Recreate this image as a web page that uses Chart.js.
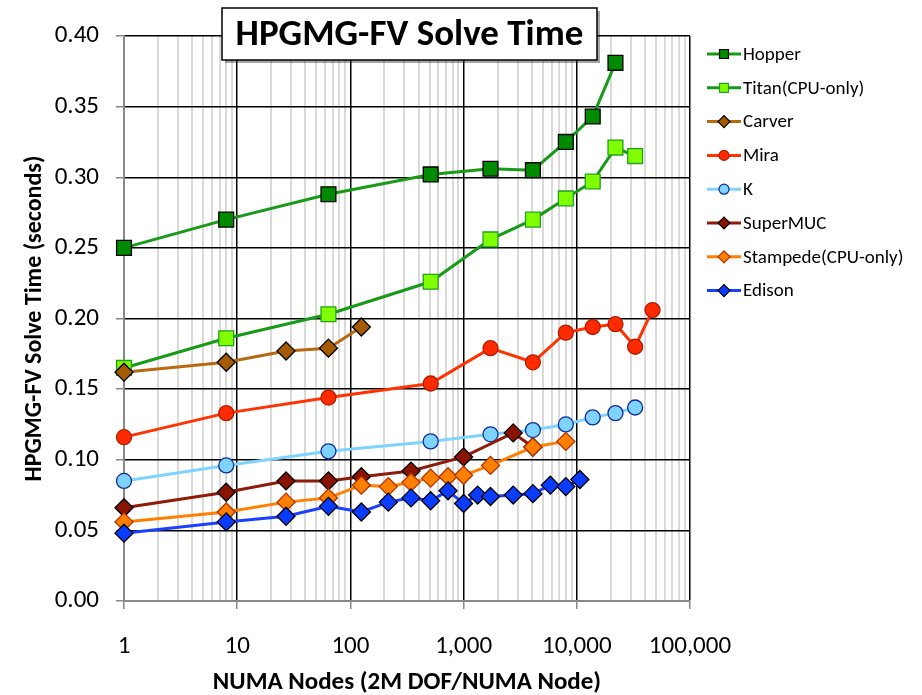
<!DOCTYPE html>
<html>
<head>
<meta charset="utf-8">
<title>HPGMG-FV Solve Time</title>
<script src="https://cdn.jsdelivr.net/npm/chart.js@4.4.1/dist/chart.umd.min.js"></script>
<style>
  html, body { margin: 0; padding: 0; background: #fff; }
  #grafico { display: block; }
</style>
</head>
<body>
<canvas id="grafico" width="922" height="695"></canvas>
<script>
// NUMA nodes (x) and solve time in seconds (y)
const hopperNodes = [1, 8, 64, 512, 1728, 4096, 8000, 13824, 21952];
const hopperTime = [0.250, 0.270, 0.288, 0.302, 0.306, 0.305, 0.325, 0.343, 0.381];

const titanNodes = [1, 8, 64, 512, 1728, 4096, 8000, 13824, 21952, 32768];
const titanTime = [0.165, 0.186, 0.203, 0.226, 0.256, 0.270, 0.285, 0.297, 0.321, 0.315];

const carverNodes = [1, 8, 27, 64, 125];
const carverTime = [0.162, 0.169, 0.177, 0.179, 0.194];

const miraNodes = [1, 8, 64, 512, 1728, 4096, 8000, 13824, 21952, 32768, 46656];
const miraTime = [0.116, 0.133, 0.144, 0.154, 0.179, 0.169, 0.190, 0.194, 0.196, 0.180, 0.206];

const kNodes = [1, 8, 64, 512, 1728, 4096, 8000, 13824, 21952, 32768];
const kTime = [0.085, 0.096, 0.106, 0.113, 0.118, 0.121, 0.125, 0.130, 0.133, 0.137];

const superMucNodes = [1, 8, 27, 64, 125, 343, 1000, 2744, 4096];
const superMucTime = [0.066, 0.077, 0.085, 0.085, 0.088, 0.092, 0.102, 0.119, 0.109];

const stampedeNodes = [1, 8, 27, 64, 125, 216, 343, 512, 729, 1000, 1728, 4096, 8000];
const stampedeTime = [0.056, 0.063, 0.070, 0.073, 0.082, 0.081, 0.084, 0.087, 0.088, 0.089, 0.096, 0.109, 0.113];

const edisonNodes = [1, 8, 27, 64, 125, 216, 343, 512, 729, 1000, 1331, 1728, 2744, 4096, 5832, 8000, 10648];
const edisonTime = [0.048, 0.056, 0.060, 0.067, 0.063, 0.070, 0.073, 0.071, 0.078, 0.069, 0.075, 0.074, 0.075, 0.076, 0.082, 0.081, 0.086];

const xTickLabels = ["1", "10", "100", "1,000", "10,000", "100,000"];
const yTickLabels = ["0.00", "0.05", "0.10", "0.15", "0.20", "0.25", "0.30", "0.35", "0.40"];

const FONT = "Carlito, Lato, 'Open Sans', sans-serif";

const series = [
  { label: "Hopper", nodes: hopperNodes, time: hopperTime, line: "#179B17", fill: "#008A00", edge: "#000000", shape: "rect", r: 10.5 },
  { label: "Titan(CPU-only)", nodes: titanNodes, time: titanTime, line: "#179B17", fill: "#80FF00", edge: "#22A022", shape: "rect", r: 10.5 },
  { label: "Carver", nodes: carverNodes, time: carverTime, line: "#B8690F", fill: "#A65A00", edge: "#000000", shape: "rectRot", r: 9 },
  { label: "Mira", nodes: miraNodes, time: miraTime, line: "#FF3300", fill: "#FF2A00", edge: "#B01E00", shape: "circle", r: 7.5 },
  { label: "K", nodes: kNodes, time: kTime, line: "#7DD4FF", fill: "#7FD3FF", edge: "#102A9A", shape: "circle", r: 7.5 },
  { label: "SuperMUC", nodes: superMucNodes, time: superMucTime, line: "#901A08", fill: "#8B1400", edge: "#000000", shape: "rectRot", r: 9 },
  { label: "Stampede(CPU-only)", nodes: stampedeNodes, time: stampedeTime, line: "#FF8000", fill: "#FF7F00", edge: "#B03000", shape: "rectRot", r: 9 },
  { label: "Edison", nodes: edisonNodes, time: edisonTime, line: "#1A40FF", fill: "#0A3CFF", edge: "#000000", shape: "rectRot", r: 9 }
];

// minor gridlines 1..9 per decade
const xGridValues = [];
for (let e = 0; e < 5; e++) {
  for (let m = 1; m < 10; m++) xGridValues.push(m * Math.pow(10, e));
}
xGridValues.push(100000);

function isDecade(v) {
  const e = Math.log10(v);
  return Math.abs(e - Math.round(e)) < 1e-9;
}

function pontos(xs, ys) {
  return xs.map((x, i) => ({ x: x, y: ys[i] }));
}

function marcador(ctx, s, x, y, r) {
  ctx.beginPath();
  if (s.shape === "rect") {
    ctx.rect(x - r, y - r, 2 * r, 2 * r);
  } else if (s.shape === "rectRot") {
    ctx.moveTo(x - r, y);
    ctx.lineTo(x, y - r);
    ctx.lineTo(x + r, y);
    ctx.lineTo(x, y + r);
    ctx.closePath();
  } else {
    ctx.arc(x, y, r, 0, Math.PI * 2);
  }
  ctx.fillStyle = s.fill;
  ctx.fill();
  ctx.lineWidth = 1.2;
  ctx.strokeStyle = s.edge;
  ctx.stroke();
}

const legenda = {
  id: "legenda",
  afterDraw(chart) {
    const ctx = chart.ctx;
    ctx.save();
    ctx.font = "19px " + FONT;
    ctx.textBaseline = "middle";
    ctx.textAlign = "left";
    series.forEach((s, i) => {
      const y = 54 + i * 33.8;
      ctx.strokeStyle = s.line;
      ctx.lineWidth = 3;
      ctx.beginPath();
      ctx.moveTo(707, y);
      ctx.lineTo(741, y);
      ctx.stroke();
      marcador(ctx, s, 724, y, s.shape === "rect" ? 4.5 : s.shape === "rectRot" ? 6 : 5);
      ctx.fillStyle = "#000";
      ctx.fillText(s.label, 743, y + 1);
    });
    ctx.restore();
  }
};

const caixaTitulo = {
  id: "caixaTitulo",
  afterDraw(chart) {
    const ctx = chart.ctx;
    ctx.save();
    ctx.fillStyle = "rgba(0,0,0,0.35)";
    ctx.fillRect(225, 11, 375, 52);
    ctx.fillStyle = "#fff";
    ctx.fillRect(222, 8, 375, 52);
    ctx.strokeStyle = "#000";
    ctx.lineWidth = 1.5;
    ctx.strokeRect(222, 8, 375, 52);
    ctx.fillStyle = "#000";
    ctx.font = "bold 37px " + FONT;
    ctx.textAlign = "center";
    ctx.textBaseline = "middle";
    ctx.fillText("HPGMG-FV Solve Time", 409.5, 36);
    ctx.restore();
  }
};

const ctx = document.getElementById("grafico");
new Chart(ctx, {
  type: "scatter",
  data: {
    datasets: series.map((s, i) => ({
      label: s.label,
      data: pontos(s.nodes, s.time),
      showLine: true,
      clip: false,
      borderColor: s.line,
      borderWidth: 3,
      pointStyle: s.shape,
      pointRadius: s.r,
      pointHoverRadius: s.r,
      pointBackgroundColor: s.fill,
      pointBorderColor: s.edge,
      pointBorderWidth: 1.3,
      order: series.length - i
    }))
  },
  options: {
    responsive: false,
    animation: false,
    events: [],
    layout: { padding: { top: 36, right: 232, left: 0, bottom: 0 } },
    plugins: {
      legend: { display: false },
      tooltip: { enabled: false }
    },
    scales: {
      x: {
        type: "logarithmic",
        min: 1,
        max: 100000,
        afterBuildTicks: scale => { scale.ticks = xGridValues.map(v => ({ value: v })); },
        afterFit: scale => { scale.height = 94; },
        grid: {
          color: c => !c.tick ? "#000" : c.tick.value === 1 ? "#888" : isDecade(c.tick.value) ? "#000" : "#dadada",
          lineWidth: c => c.tick && isDecade(c.tick.value) ? 1.5 : 2,
          tickColor: c => c.tick && isDecade(c.tick.value) ? "#888" : "rgba(0,0,0,0)",
          tickLength: 8
        },
        border: { color: "#888", width: 2 },
        ticks: {
          autoSkip: false,
          maxRotation: 0,
          padding: 23,
          color: "#000",
          font: { family: FONT, size: 25 },
          callback: v => isDecade(v) ? xTickLabels[Math.round(Math.log10(v))] : ""
        },
        title: {
          display: true,
          text: "NUMA Nodes (2M DOF/NUMA Node)",
          color: "#000",
          font: { family: FONT, size: 25, weight: "bold", lineHeight: 1 },
          padding: 0
        }
      },
      y: {
        min: 0,
        max: 0.4,
        afterFit: scale => { scale.width = 124; },
        grid: {
          color: c => c.tick && c.tick.value === 0 ? "#888" : "#000",
          lineWidth: 1.5,
          tickColor: "#888",
          tickLength: 8
        },
        border: { color: "#888", width: 2 },
        ticks: {
          stepSize: 0.05,
          padding: 17,
          color: "#000",
          font: { family: FONT, size: 25 },
          callback: (v, i) => yTickLabels[i]
        },
        title: {
          display: true,
          text: "HPGMG-FV Solve Time (seconds)",
          color: "#000",
          font: { family: FONT, size: 24, weight: "bold", lineHeight: 1 },
          padding: { top: 23, bottom: 0 }
        }
      }
    }
  },
  plugins: [legenda, caixaTitulo]
});
</script>
</body>
</html>
